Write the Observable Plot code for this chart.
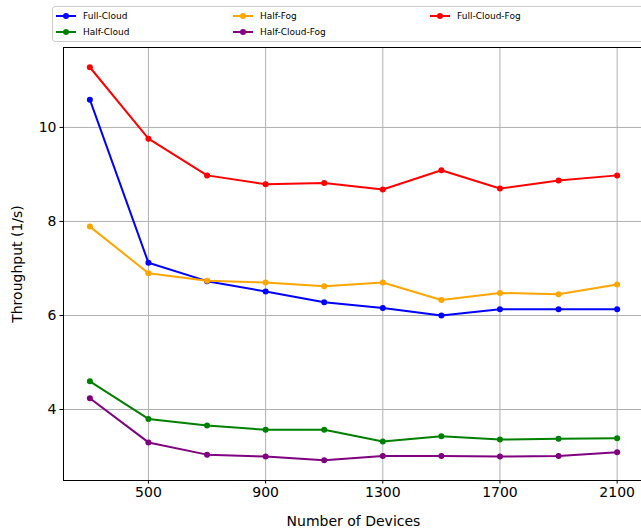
<!DOCTYPE html>
<html>
<head>
<meta charset="utf-8">
<script src="https://cdn.jsdelivr.net/npm/d3@7"></script>
<script src="https://cdn.jsdelivr.net/npm/@observablehq/plot@0.6"></script>
<style>
  html, body { margin: 0; padding: 0; background: white; }
  #wrap { position: relative; width: 641px; height: 531px; overflow: hidden; font-family: "DejaVu Sans", sans-serif; }
  #legend { position: absolute; left: 52px; top: 6px; width: 620px; height: 36px; border: 1px solid #cccccc; border-radius: 3px; background: white; box-sizing: border-box; }
  .item { position: absolute; display: flex; align-items: center; font-size: 9px; color: black; white-space: nowrap; }
  .item svg { margin-right: 6px; }
</style>
</head>
<body>
<div id="wrap"><div id="legend"></div></div>
<script>
const devices = [300, 500, 700, 900, 1100, 1300, 1500, 1700, 1900, 2100];
const seriesNames = ["Full-Cloud", "Half-Cloud", "Half-Fog", "Half-Cloud-Fog", "Full-Cloud-Fog"];
const seriesColors = ["#0000ff", "#008000", "#ffa500", "#800080", "#ff0000"];
const fullCloud    = [10.59, 7.12, 6.73, 6.51, 6.28, 6.16, 6.00, 6.13, 6.13, 6.13];
const halfCloud    = [4.60, 3.80, 3.66, 3.57, 3.57, 3.32, 3.43, 3.36, 3.38, 3.39];
const halfFog      = [7.89, 6.90, 6.74, 6.70, 6.62, 6.70, 6.33, 6.48, 6.45, 6.66];
const halfCloudFog = [4.24, 3.30, 3.04, 3.00, 2.92, 3.01, 3.01, 3.00, 3.01, 3.09];
const fullCloudFog = [11.28, 9.76, 8.98, 8.79, 8.82, 8.68, 9.09, 8.70, 8.87, 8.98];
const xTicks = [500, 900, 1300, 1700, 2100];
const yTicks = [4, 6, 8, 10];

const seriesValues = [fullCloud, halfCloud, halfFog, halfCloudFog, fullCloudFog];
const data = [];
seriesNames.forEach((name, i) => {
  devices.forEach((d, j) => data.push({series: name, x: d, y: seriesValues[i][j]}));
});
const colorScale = {domain: seriesNames, range: seriesColors};

const chart = Plot.plot({
  width: 641,
  height: 531,
  marginTop: 47,
  marginBottom: 51,
  marginLeft: 63,
  marginRight: -2,
  style: {fontFamily: "DejaVu Sans", fontSize: "14px", color: "black", background: "white", overflow: "hidden"},
  x: {domain: [210, 2190]},
  y: {domain: [2.49, 11.70]},
  color: colorScale,
  marks: [
    Plot.gridX(xTicks, {stroke: "#b0b0b0", strokeOpacity: 1, strokeWidth: 1}),
    Plot.gridY(yTicks, {stroke: "#b0b0b0", strokeOpacity: 1, strokeWidth: 1}),
    Plot.line(data, {x: "x", y: "y", z: "series", stroke: "series", strokeWidth: 2}),
    Plot.dot(data, {x: "x", y: "y", fill: "series", r: 3}),
    Plot.frame({stroke: "black", strokeWidth: 1}),
    Plot.axisX(xTicks, {tickSize: 3.5, tickPadding: 3.5, fontSize: 14, tickFormat: d3.format("d"), label: "Number of Devices", labelAnchor: "center", labelArrow: "none", labelOffset: 45}),
    Plot.axisY(yTicks, {tickSize: 3.5, tickPadding: 3.5, fontSize: 14, tickFormat: d3.format("d"), label: "Throughput (1/s)", labelAnchor: "center", labelArrow: "none", labelOffset: 51})
  ]
});
chart.style.position = "absolute";
chart.style.left = "0px";
chart.style.top = "0px";
const wrap = document.getElementById("wrap");
wrap.insertBefore(chart, wrap.firstChild);

// Legend (3 columns, filled column-wise)
const legend = document.getElementById("legend");
const colLeft = [3, 180, 377];
const rowTop = [9.5, 26];
seriesNames.forEach((name, i) => {
  const col = Math.floor(i / 2), row = i % 2;
  const div = document.createElement("div");
  div.className = "item";
  div.style.left = colLeft[col] + "px";
  div.style.top = (rowTop[row] - 6 - 1) + "px";
  div.style.height = "12px";
  div.innerHTML = `<svg width="21" height="12"><line x1="0" x2="20" y1="6" y2="6" stroke="${seriesColors[i]}" stroke-width="2"/><circle cx="10" cy="6" r="3" fill="${seriesColors[i]}"/></svg><span>${name}</span>`;
  legend.appendChild(div);
});
</script>
</body>
</html>
